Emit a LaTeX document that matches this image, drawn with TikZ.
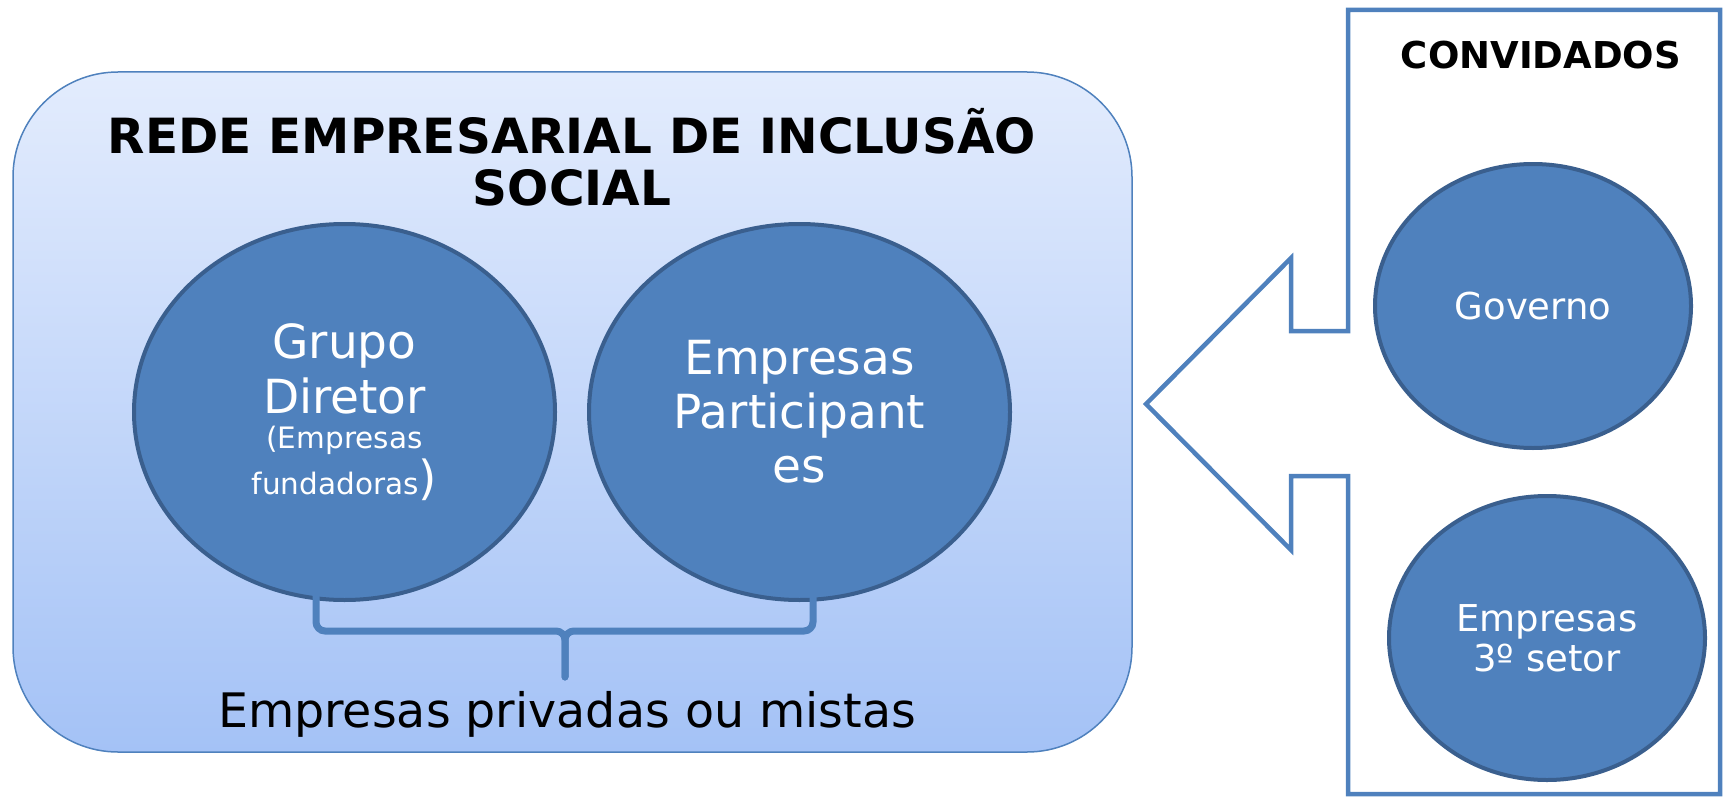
\documentclass[tikz,border=0pt]{standalone}
\usepackage{fontspec}
\setmainfont{DejaVu Sans}
\usetikzlibrary{shapes.geometric}
\definecolor{accent}{HTML}{4F81BD}
\definecolor{ringcol}{HTML}{3A5F8E}
\definecolor{boxtop}{HTML}{E3ECFD}
\definecolor{boxbot}{HTML}{A4C2F6}
\begin{document}
\begin{tikzpicture}[x=1pt,y=-1pt,
  bubble/.style={ellipse, fill=accent, draw=ringcol, line width=4pt, text=white, inner sep=0pt, align=center},
  outline/.style={draw=accent, line width=4.5pt, line join=miter},
  bracket/.style={draw=accent, line width=7pt, line cap=round, rounded corners=9pt}]
\useasboundingbox (0,0) rectangle (1723,797);
% main gradient box
\node[draw=accent, line width=1.5pt, rounded corners=105pt, top color=boxtop, bottom color=boxbot,
      minimum width=1119pt, minimum height=680pt, inner sep=0pt] (rede) at (572.5,412) {};
\node[align=center, font=\fontsize{48.5}{52}\selectfont\bfseries] (title) at (572,157)
  {REDE EMPRESARIAL DE INCLUSÃO\\SOCIAL};
% ellipses
\node[bubble, minimum width=421pt, minimum height=376pt, font=\fontsize{47}{55}\selectfont] (grupo) at (344.5,412)
  {Grupo\\Diretor\\[-20pt]{\fontsize{29.5}{34}\selectfont(Empresas}\\[-9pt]{\fontsize{29.5}{34}\selectfont fundadoras}{\fontsize{47}{55}\selectfont)}};
\node[bubble, minimum width=421pt, minimum height=376pt, font=\fontsize{47}{54}\selectfont] (part) at (799.5,412)
  {Empresas\\Participant\\es};
% bracket
\coordinate (bl) at (316,588);
\coordinate (br) at (813,588);
\coordinate (bm) at (565,631);
\coordinate (bt) at (565,677);
\draw[bracket] (bl) -- (316,631) -- (bm) -- (bt);
\draw[bracket] (br) -- (813,631) -- (bm) -- (bt);
\node[anchor=base, font=\fontsize{47.5}{52}\selectfont] (mistas) at (567,727) {Empresas privadas ou mistas};
% convidados box with arrow
\draw[outline] (1348,10) -- (1720,10) -- (1720,794) -- (1348,794) -- (1348,476) -- (1291,476)
  -- (1291,550) -- (1146,404) -- (1291,258) -- (1291,331) -- (1348,331) -- cycle;
\node[anchor=base, font=\fontsize{37}{40}\selectfont\bfseries] (conv) at (1541,69) {CONVIDADOS};
\node[bubble, minimum width=316pt, minimum height=284pt, font=\fontsize{37}{40}\selectfont] (gov) at (1533,306) {Governo};
\node[bubble, minimum width=316pt, minimum height=284pt, font=\fontsize{37}{40}\selectfont] (ter) at (1547,638) {Empresas\\3º setor};
\end{tikzpicture}
\end{document}
